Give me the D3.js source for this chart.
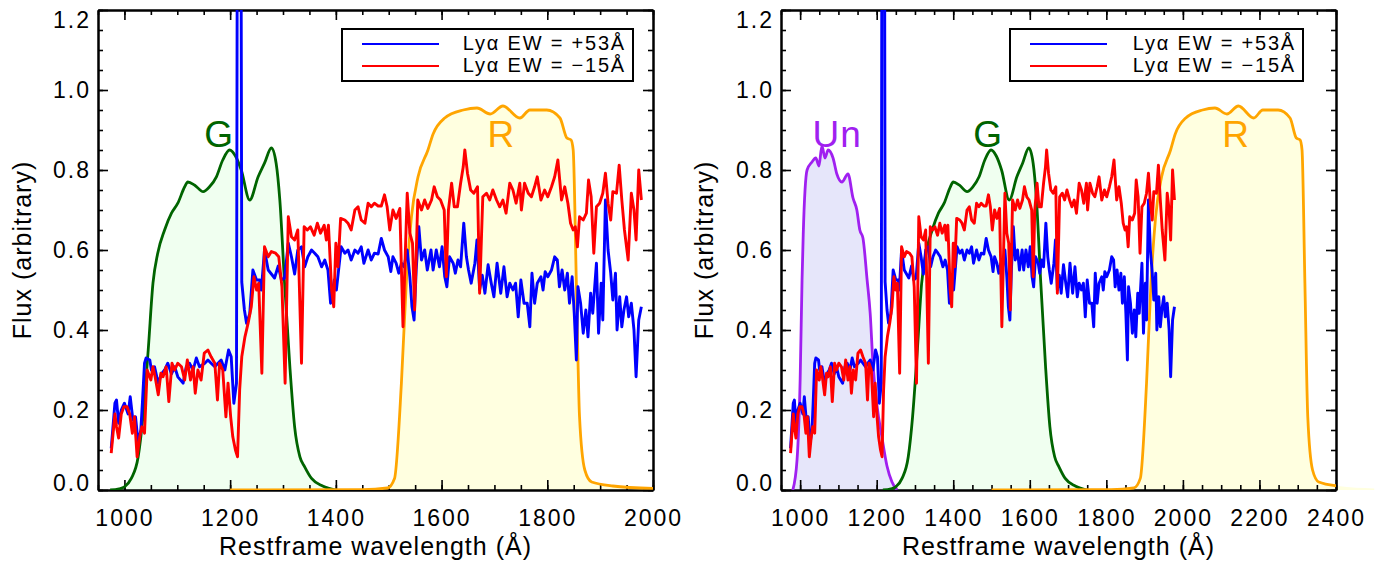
<!DOCTYPE html>
<html>
<head>
<meta charset="utf-8">
<script src="https://cdn.jsdelivr.net/npm/d3@7"></script>
<style>
  body { margin: 0; background: #fff; }
  text { font-family: "Liberation Sans", Arial, Helvetica, sans-serif; fill: #000; }
  .tick text { font-size: 23px; letter-spacing: 2px; }
  .axis-title { font-size: 25px; letter-spacing: 1px; }
  .legend-text { font-size: 20px; letter-spacing: 1.8px; }
  .filter-label { font-size: 37px; letter-spacing: 1px; }
</style>
</head>
<body>
<svg id="chart" width="1384" height="562"></svg>
<script>
// Spectra, restframe wavelength (A) and flux (arbitrary)
const blueWave = [975, 982, 985, 989, 994, 1000, 1007, 1011, 1016, 1021, 1026, 1031, 1034, 1038, 1041, 1048, 1051, 1057, 1064, 1070,
  1076, 1082, 1089, 1095, 1101, 1111, 1117, 1123, 1130, 1136, 1142, 1152, 1158, 1164, 1171, 1177, 1183, 1190, 1197, 1202,
  1207, 1212, 1214, 1220, 1222, 1227, 1231, 1237, 1243, 1250, 1256, 1259, 1265, 1272, 1278, 1284, 1291, 1297, 1303, 1310,
  1316, 1322, 1328, 1335, 1341, 1347, 1354, 1360, 1366, 1373, 1379, 1385, 1390, 1397, 1401, 1410, 1417, 1423, 1429, 1436,
  1442, 1448, 1453, 1461, 1467, 1473, 1480, 1486, 1492, 1499, 1504, 1508, 1514, 1519, 1524, 1529, 1535, 1540, 1544, 1548,
  1552, 1557, 1562, 1568, 1573, 1580, 1584, 1590, 1596, 1601, 1606, 1610, 1615, 1622, 1626, 1631, 1636, 1642, 1647, 1651,
  1656, 1663, 1667, 1672, 1677, 1682, 1688, 1694, 1699, 1705, 1712, 1718, 1724, 1729, 1735, 1740, 1745, 1750, 1756, 1762,
  1767, 1771, 1776, 1781, 1788, 1792, 1796, 1801, 1808, 1814, 1819, 1823, 1828, 1833, 1838, 1842, 1847, 1851, 1855, 1858,
  1863, 1868, 1873, 1877, 1882, 1886, 1893, 1897, 1902, 1905, 1910, 1915, 1920, 1924, 1929, 1932, 1937, 1941, 1945, 1950,
  1954, 1959, 1964, 1968, 1973, 1978];
const blueFlux = [0.104, 0.217, 0.225, 0.167, 0.20, 0.217, 0.19, 0.233, 0.175, 0.183, 0.117, 0.15, 0.217, 0.317, 0.33, 0.325, 0.30, 0.308, 0.267, 0.29,
  0.30, 0.317, 0.29, 0.308, 0.283, 0.267, 0.308, 0.317, 0.30, 0.33, 0.308, 0.317, 0.325, 0.317, 0.308, 0.317, 0.325, 0.30, 0.35, 0.333,
  0.217, 0.267, 1.8, 1.8, 0.52, 0.45, 0.417, 0.44, 0.55, 0.525, 0.525, 0.50, 0.60, 0.55, 0.54, 0.53, 0.56, 0.525, 0.53, 0.617,
  0.583, 0.54, 0.60, 0.608, 0.558, 0.583, 0.60, 0.592, 0.583, 0.558, 0.575, 0.55, 0.467, 0.525, 0.50, 0.608, 0.592, 0.60, 0.575, 0.60,
  0.592, 0.608, 0.567, 0.60, 0.575, 0.592, 0.59, 0.629, 0.60, 0.583, 0.546, 0.583, 0.567, 0.542, 0.567, 0.558, 0.60, 0.533, 0.458, 0.425,
  0.55, 0.658, 0.575, 0.60, 0.55, 0.60, 0.55, 0.60, 0.558, 0.608, 0.533, 0.508, 0.583, 0.567, 0.542, 0.575, 0.558, 0.667, 0.583, 0.55,
  0.517, 0.567, 0.625, 0.50, 0.537, 0.492, 0.563, 0.517, 0.483, 0.567, 0.492, 0.558, 0.483, 0.517, 0.50, 0.517, 0.433, 0.525, 0.467, 0.467,
  0.408, 0.542, 0.467, 0.517, 0.533, 0.50, 0.546, 0.533, 0.55, 0.583, 0.575, 0.508, 0.55, 0.50, 0.542, 0.467, 0.533, 0.442, 0.325, 0.508,
  0.467, 0.392, 0.45, 0.383, 0.492, 0.442, 0.567, 0.392, 0.517, 0.425, 0.725, 0.60, 0.542, 0.475, 0.542, 0.40, 0.483, 0.408, 0.45, 0.483,
  0.433, 0.467, 0.40, 0.283, 0.425, 0.458];

const redWave = [975, 982, 985, 989, 994, 999, 1005, 1010, 1015, 1019, 1024, 1029, 1033, 1038, 1043, 1050, 1054, 1058, 1064, 1069,
  1073, 1079, 1084, 1090, 1095, 1101, 1108, 1114, 1119, 1125, 1130, 1134, 1139, 1145, 1151, 1158, 1164, 1171, 1176, 1180,
  1186, 1192, 1196, 1201, 1205, 1210, 1214, 1218, 1222, 1228, 1234, 1240, 1245, 1250, 1254, 1260, 1265, 1272, 1278, 1286,
  1292, 1298, 1304, 1310, 1316, 1322, 1328, 1335, 1340, 1346, 1352, 1359, 1365, 1371, 1378, 1382, 1386, 1392, 1396, 1400,
  1404, 1409, 1417, 1423, 1429, 1436, 1442, 1448, 1455, 1461, 1467, 1473, 1480, 1486, 1492, 1497, 1502, 1508, 1514, 1521,
  1527, 1535, 1540, 1545, 1549, 1555, 1562, 1568, 1574, 1581, 1586, 1592, 1598, 1605, 1609, 1613, 1619, 1624, 1630, 1636,
  1641, 1644, 1649, 1655, 1661, 1668, 1672, 1678, 1685, 1691, 1697, 1704, 1710, 1716, 1722, 1729, 1735, 1741, 1748, 1751,
  1757, 1764, 1770, 1776, 1781, 1788, 1795, 1801, 1808, 1814, 1820, 1827, 1833, 1839, 1844, 1849, 1853, 1857, 1861, 1868,
  1874, 1878, 1883, 1888, 1893, 1899, 1905, 1910, 1915, 1920, 1924, 1931, 1936, 1941, 1946, 1953, 1959, 1964, 1968, 1973,
  1978];
const redFlux = [0.092, 0.19, 0.158, 0.13, 0.19, 0.208, 0.208, 0.19, 0.142, 0.183, 0.083, 0.133, 0.158, 0.142, 0.30, 0.275, 0.308, 0.283, 0.238, 0.292,
  0.283, 0.308, 0.221, 0.317, 0.30, 0.317, 0.308, 0.275, 0.325, 0.275, 0.308, 0.242, 0.30, 0.275, 0.342, 0.35, 0.333, 0.317, 0.225, 0.317,
  0.30, 0.183, 0.267, 0.183, 0.133, 0.10, 0.083, 0.25, 0.333, 0.383, 0.417, 0.458, 0.533, 0.50, 0.517, 0.292, 0.608, 0.583, 0.596, 0.592,
  0.583, 0.508, 0.267, 0.683, 0.633, 0.625, 0.65, 0.317, 0.658, 0.65, 0.658, 0.637, 0.667, 0.642, 0.662, 0.625, 0.662, 0.50, 0.458, 0.617,
  0.558, 0.679, 0.675, 0.667, 0.65, 0.70, 0.708, 0.675, 0.667, 0.717, 0.708, 0.717, 0.71, 0.71, 0.738, 0.708, 0.65, 0.70, 0.679, 0.704,
  0.408, 0.742, 0.642, 0.617, 0.45, 0.725, 0.70, 0.725, 0.704, 0.725, 0.758, 0.733, 0.725, 0.70, 0.533, 0.70, 0.767, 0.708, 0.708, 0.767,
  0.808, 0.85, 0.792, 0.75, 0.742, 0.758, 0.492, 0.733, 0.742, 0.725, 0.75, 0.725, 0.708, 0.725, 0.692, 0.767, 0.75, 0.717, 0.767, 0.70,
  0.767, 0.742, 0.733, 0.758, 0.783, 0.725, 0.75, 0.733, 0.758, 0.783, 0.825, 0.725, 0.758, 0.717, 0.667, 0.65, 0.658, 0.608, 0.683, 0.675,
  0.692, 0.775, 0.733, 0.592, 0.708, 0.717, 0.742, 0.792, 0.717, 0.675, 0.746, 0.742, 0.812, 0.725, 0.65, 0.575, 0.742, 0.70, 0.625, 0.80,
  0.725];

// Filter transmission curves, observed wavelength (A), peak-scaled
const unWave = [3139, 3174, 3200, 3216, 3226, 3258, 3299, 3331, 3357, 3382, 3408, 3434, 3475, 3507, 3549, 3600, 3642, 3674, 3699, 3725,
  3760, 3786, 3808, 3843, 3885, 3926, 3968, 4010];
const unTrans = [0, 0.075, 0.275, 0.525, 0.64, 0.80, 0.82, 0.83, 0.81, 0.86, 0.83, 0.85, 0.83, 0.79, 0.77, 0.79, 0.73, 0.70, 0.65, 0.63,
  0.525, 0.44, 0.32, 0.21, 0.13, 0.06, 0.02, 0];
const gWave = [3892, 3960, 4000, 4052, 4104, 4140, 4180, 4216, 4252, 4304, 4356, 4404, 4456, 4480, 4532, 4596, 4644, 4696, 4744, 4796,
  4840, 4884, 4948, 5012, 5060, 5112, 5148, 5176, 5212, 5252, 5288, 5328, 5364, 5416, 5500, 5600];
const gTrans = [0, 0.003, 0.008, 0.029, 0.083, 0.183, 0.35, 0.517, 0.592, 0.65, 0.692, 0.717, 0.758, 0.77, 0.762, 0.746, 0.758, 0.783, 0.825, 0.85,
  0.835, 0.80, 0.725, 0.783, 0.817, 0.855, 0.817, 0.725, 0.517, 0.308, 0.158, 0.083, 0.058, 0.029, 0.01, 0];
const rWave = [4800, 5800, 5990, 6044, 6096, 6133, 6172, 6222, 6297, 6336, 6424, 6564, 6668, 6768, 6864, 6992, 7068, 7196, 7296, 7348,
  7380, 7396, 7420, 7444, 7484, 7536, 7696, 8000];
const rTrans = [0, 0.001, 0.005, 0.029, 0.267, 0.517, 0.683, 0.783, 0.85, 0.89, 0.93, 0.95, 0.955, 0.94, 0.96, 0.93, 0.95, 0.95, 0.93, 0.88,
  0.875, 0.85, 0.517, 0.183, 0.05, 0.02, 0.01, 0.004];

const yTicks = [0, 0.2, 0.4, 0.6, 0.8, 1.0, 1.2];
const xTicksLeft = [1000, 1200, 1400, 1600, 1800, 2000];
const xTicksRight = [1000, 1200, 1400, 1600, 1800, 2000, 2200, 2400];
const legendLabels = ["Ly\u03b1 EW = +53\u00c5", "Ly\u03b1 EW = \u221215\u00c5"];
const legendColors = ["#0000ff", "#ff0000"];

const filters = {
  Un: { wave: unWave, trans: unTrans, line: "#a020f0", fill: "#e6e6fa" },
  G: { wave: gWave, trans: gTrans, line: "#006400", fill: "#f0fff0" },
  R: { wave: rWave, trans: rTrans, line: "#ffa500", fill: "#ffffe0" }
};

const svg = d3.select("#chart");
const plotTop = 10, plotBottom = 490;

const panels = [
  { x0: 98, x1: 653, domain: [950, 2000], z: 3.0, ticks: xTicksLeft, bands: ["G", "R"],
    labelAt: { G: 1179, R: 1713 }, legendX: 342, legendW: 291, yTitleX: 22 },
  { x0: 781, x1: 1336, domain: [950, 2400], z: 2.2, ticks: xTicksRight, bands: ["Un", "G", "R"],
    labelAt: { Un: 1097, G: 1491, R: 2139 }, legendX: 1010, legendW: 293, yTitleX: 704 }
];

function styleAxis(sel) {
  sel.select(".domain").attr("stroke", "#000").attr("stroke-width", 2);
  sel.selectAll(".tick line").attr("stroke", "#000").attr("stroke-width", 1.6);
}

function drawPanel(p, i) {
  let x = d3.scaleLinear().domain(p.domain).range([p.x0, p.x1]);
  let y = d3.scaleLinear().domain([0, 1.2]).range([plotBottom, plotTop]);
  let g = svg.append("g");

  svg.append("clipPath").attr("id", "clip" + i)
    .append("rect")
    .attr("x", p.x0).attr("y", plotTop)
    .attr("width", p.x1 - p.x0).attr("height", plotBottom - plotTop);

  // filter fills (left unclipped, as in the original plot)
  let area = d3.area().x(d => x(d[0])).y0(y(0)).y1(d => y(d[1])).curve(d3.curveMonotoneX);
  let line = d3.line().x(d => x(d[0])).y(d => y(d[1])).curve(d3.curveMonotoneX);
  let bandPts = p.bands.map(name => {
    let f = filters[name];
    return f.wave.map((w, j) => [w / (1 + p.z), f.trans[j]]);
  });
  p.bands.forEach((name, k) => {
    g.append("path").attr("d", area(bandPts[k])).attr("fill", filters[name].fill);
  });

  // axes, ticks pointing inward on all four sides
  let minorX = d3.range(p.domain[0], p.domain[1] + 1, 50);
  let minorY = d3.range(0, 1.2001, 0.05);
  let fmt = d3.format(".1f");

  g.append("g").attr("transform", `translate(0,${plotBottom})`)
    .call(d3.axisBottom(x).tickValues(minorX).tickSize(-5).tickSizeOuter(0).tickFormat(""))
    .call(styleAxis);
  g.append("g").attr("transform", `translate(0,${plotBottom})`)
    .call(d3.axisBottom(x).tickValues(p.ticks).tickSize(-10).tickSizeOuter(0).tickPadding(20).tickFormat(d3.format("d")))
    .call(styleAxis);
  g.append("g").attr("transform", `translate(0,${plotTop})`)
    .call(d3.axisTop(x).tickValues(minorX).tickSize(-5).tickSizeOuter(0).tickFormat(""))
    .call(styleAxis);
  g.append("g").attr("transform", `translate(0,${plotTop})`)
    .call(d3.axisTop(x).tickValues(p.ticks).tickSize(-10).tickSizeOuter(0).tickFormat(""))
    .call(styleAxis);
  g.append("g").attr("transform", `translate(${p.x0},0)`)
    .call(d3.axisLeft(y).tickValues(minorY).tickSize(-5).tickSizeOuter(0).tickFormat(""))
    .call(styleAxis);
  let yAxis = g.append("g").attr("transform", `translate(${p.x0},0)`)
    .call(d3.axisLeft(y).tickValues(yTicks).tickSize(-10).tickSizeOuter(0).tickPadding(7).tickFormat(fmt))
    .call(styleAxis);
  // end labels are nudged inside the frame, as the original plot does
  yAxis.selectAll(".tick text")
    .attr("y", d => d === 1.2 ? 10 : (d === 0 ? -7 : 0));
  g.append("g").attr("transform", `translate(${p.x1},0)`)
    .call(d3.axisRight(y).tickValues(minorY).tickSize(-5).tickSizeOuter(0).tickFormat(""))
    .call(styleAxis);
  g.append("g").attr("transform", `translate(${p.x1},0)`)
    .call(d3.axisRight(y).tickValues(yTicks).tickSize(-10).tickSizeOuter(0).tickFormat(""))
    .call(styleAxis);

  let clipped = g.append("g").attr("clip-path", `url(#clip${i})`);

  // filter curves
  p.bands.forEach((name, k) => {
    clipped.append("path").attr("d", line(bandPts[k]))
      .attr("fill", "none").attr("stroke", filters[name].line).attr("stroke-width", 2.8)
      .attr("stroke-linejoin", "round");
  });

  // spectra
  let specLine = d3.line().x(d => x(d[0])).y(d => y(d[1]));
  let blue = blueWave.map((w, j) => [w, blueFlux[j]]);
  let red = redWave.map((w, j) => [w, redFlux[j]]);
  clipped.append("path").attr("d", specLine(blue))
    .attr("fill", "none").attr("stroke", "#0000ff").attr("stroke-width", 2.9).attr("stroke-linejoin", "round");
  clipped.append("path").attr("d", specLine(red))
    .attr("fill", "none").attr("stroke", "#ff0000").attr("stroke-width", 2.9).attr("stroke-linejoin", "round");

  // band labels
  p.bands.forEach(name => {
    g.append("text").attr("class", "filter-label")
      .attr("x", x(p.labelAt[name])).attr("y", y(0.8575))
      .attr("text-anchor", "middle")
      .style("fill", filters[name].line)
      .text(name);
  });

  // legend
  let lg = g.append("g").attr("transform", `translate(${p.legendX},29)`);
  lg.append("rect").attr("width", p.legendW).attr("height", 52)
    .attr("fill", "none").attr("stroke", "#000").attr("stroke-width", 2);
  legendLabels.forEach((lab, k) => {
    lg.append("line").attr("x1", 20).attr("x2", 97).attr("y1", 15 + k * 22).attr("y2", 15 + k * 22)
      .attr("stroke", legendColors[k]).attr("stroke-width", 2);
    lg.append("text").attr("class", "legend-text")
      .attr("x", p.legendW - 7).attr("y", 21 + k * 22)
      .attr("text-anchor", "end").text(lab);
  });

  // axis titles
  g.append("text").attr("class", "axis-title")
    .attr("x", (p.x0 + p.x1) / 2).attr("y", 555)
    .attr("text-anchor", "middle").text("Restframe wavelength (\u00c5)");
  g.append("text").attr("class", "axis-title")
    .attr("transform", `translate(${p.yTitleX + 9},${(plotTop + plotBottom) / 2}) rotate(-90)`)
    .attr("text-anchor", "middle").text("Flux (arbitrary)");
}

panels.forEach(drawPanel);
</script>
</body>
</html>
